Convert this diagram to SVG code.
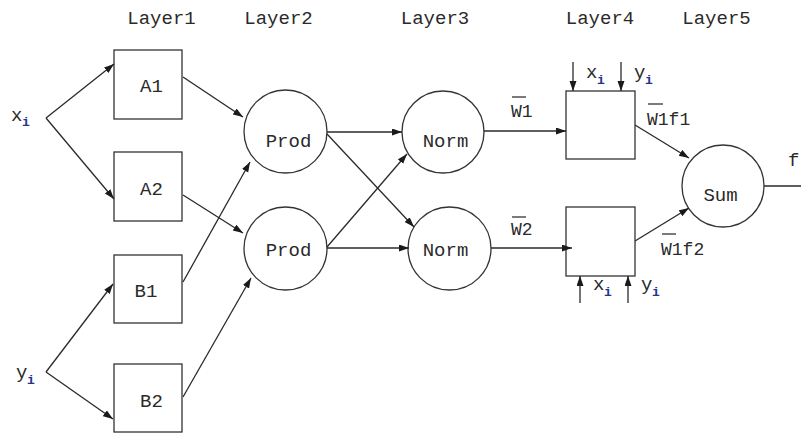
<svg xmlns="http://www.w3.org/2000/svg" width="801" height="434" viewBox="0 0 801 434">
<style>
.t{font-family:"Liberation Mono","Courier New",monospace;font-size:19px;fill:#2a2a2a}
.w{font-family:"Liberation Mono","Courier New",monospace;font-size:18px;fill:#2a2a2a}
.s{font-family:"Liberation Mono","Courier New",monospace;font-size:13px;fill:#23358a;font-weight:bold}
.n{fill:#fff;stroke:#333;stroke-width:1.3}
.c line{stroke:#2a2a2a;stroke-width:1.3;marker-end:url(#ah)}
.c line.plain{marker-end:none}
.ov{stroke:#333;stroke-width:1.3}
</style>
<defs>
<marker id="ah" markerUnits="userSpaceOnUse" markerWidth="11" markerHeight="8" refX="10" refY="3.5" orient="auto">
<path d="M0,0 L10,3.5 L0,7 z" fill="#1a1a1a"/>
</marker>
</defs>
<rect width="801" height="434" fill="#fff"/>
<g id="layer-labels">
<text class="t" x="161.5" y="24" text-anchor="middle">Layer1</text>
<text class="t" x="278.5" y="24" text-anchor="middle">Layer2</text>
<text class="t" x="435" y="24" text-anchor="middle">Layer3</text>
<text class="t" x="600" y="24" text-anchor="middle">Layer4</text>
<text class="t" x="716.5" y="24" text-anchor="middle">Layer5</text>
</g>
<g id="input-x"><text class="t" x="11" y="121">x</text><text class="s" x="22" y="126">i</text></g>
<g id="input-y"><text class="t" x="16" y="378">y</text><text class="s" x="27" y="384">i</text></g>
<g id="A1"><rect class="n" x="114" y="50" width="68" height="69"/><text class="t" x="151.5" y="92" text-anchor="middle">A1</text></g>
<g id="A2"><rect class="n" x="114" y="152" width="68" height="69"/><text class="t" x="151.5" y="195" text-anchor="middle">A2</text></g>
<g id="B1"><rect class="n" x="114" y="255" width="68" height="68"/><text class="t" x="146" y="297" text-anchor="middle">B1</text></g>
<g id="B2"><rect class="n" x="114" y="364" width="68" height="68"/><text class="t" x="151.5" y="407" text-anchor="middle">B2</text></g>
<g id="Prod1"><circle class="n" cx="285.5" cy="131.5" r="41.5"/><text class="t" x="288.5" y="146.5" text-anchor="middle">Prod</text></g>
<g id="Prod2"><circle class="n" cx="285.5" cy="248.5" r="41.5"/><text class="t" x="288.5" y="255.5" text-anchor="middle">Prod</text></g>
<g id="Norm1"><circle class="n" cx="443" cy="132" r="41"/><text class="t" x="445.5" y="146.5" text-anchor="middle">Norm</text></g>
<g id="Norm2"><circle class="n" cx="449.5" cy="248.5" r="41.5"/><text class="t" x="445.5" y="255.5" text-anchor="middle">Norm</text></g>
<g id="L4a"><rect class="n" x="566" y="91" width="69" height="68"/></g>
<g id="L4b"><rect class="n" x="566" y="207" width="69" height="69"/></g>
<g id="Sum"><circle class="n" cx="723" cy="186" r="41"/><text class="t" x="720.5" y="200.5" text-anchor="middle">Sum</text></g>
<g id="connectors" class="c">
<line x1="46" y1="118" x2="114" y2="64"/>
<line x1="46" y1="118" x2="114" y2="199"/>
<line x1="46" y1="372" x2="113" y2="284"/>
<line x1="46" y1="372" x2="113" y2="419"/>
<line x1="183" y1="77" x2="243" y2="117"/>
<line x1="183" y1="195" x2="243" y2="233"/>
<line x1="183" y1="282" x2="250" y2="162"/>
<line x1="183" y1="397" x2="251" y2="278"/>
<line x1="327" y1="132" x2="402" y2="132"/>
<line x1="327" y1="134" x2="414" y2="227"/>
<line x1="327" y1="247" x2="407" y2="154"/>
<line x1="327" y1="248" x2="409" y2="248"/>
<line x1="484" y1="131" x2="566" y2="131"/>
<line x1="491" y1="248" x2="572" y2="248"/>
<line x1="635" y1="125" x2="689" y2="158"/>
<line x1="635" y1="241" x2="689" y2="208"/>
<line class="plain" x1="764" y1="186" x2="801" y2="186"/>
<line x1="573" y1="62" x2="573" y2="91"/>
<line x1="621" y1="62" x2="621" y2="91"/>
<line x1="580" y1="303" x2="580" y2="276"/>
<line x1="628" y1="303" x2="628" y2="276"/>
</g>
<g id="edge-labels">
<text class="w" x="511" y="117">W1</text><line class="ov" x1="512" y1="97" x2="526" y2="97"/>
<text class="w" x="511" y="235">W2</text><line class="ov" x1="512" y1="217" x2="526" y2="217"/>
<text class="w" x="647" y="125">W1f1</text><line class="ov" x1="648" y1="104" x2="663" y2="104"/>
<text class="w" x="661" y="255">W1f2</text><line class="ov" x1="662" y1="234" x2="676" y2="234"/>
<text class="t" x="788" y="166">f</text>
<text class="t" x="586" y="78">x</text><text class="s" x="597" y="84">i</text>
<text class="t" x="634" y="78">y</text><text class="s" x="645" y="84">i</text>
<text class="t" x="593" y="290">x</text><text class="s" x="604" y="296">i</text>
<text class="t" x="641" y="290">y</text><text class="s" x="652" y="296">i</text>
</g>
</svg>
